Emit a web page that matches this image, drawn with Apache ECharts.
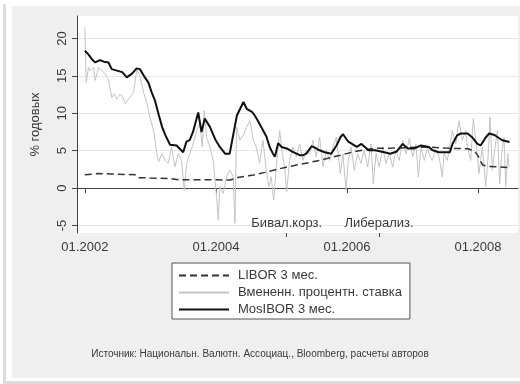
<!DOCTYPE html>
<html><head><meta charset="utf-8">
<script src="https://cdn.jsdelivr.net/npm/echarts@6/dist/echarts.min.js"></script>
<style>
html,body{margin:0;padding:0;background:#fff;width:520px;height:384px;overflow:hidden;}
#shadowL{position:absolute;left:3px;top:4px;width:3px;height:378px;background:#dcdcdc;}
#shadowB{position:absolute;left:3px;top:381px;width:517px;height:3px;background:#dcdcdc;}
#panel{position:absolute;left:12px;top:6px;width:508px;height:372px;background:#efefef;}
#chart{position:absolute;left:0;top:0;width:520px;height:384px;}
</style></head>
<body>
<div id="shadowL"></div><div id="shadowB"></div><div id="panel"></div>
<div id="chart"></div>
<script>
// ---- data (x = decimal year, y = % per annum) ----
const seriesNames = ['LIBOR 3 мес.', 'Вмененн. процентн. ставка', 'MosIBOR 3 мес.'];
const yTicks = [-5, 0, 5, 10, 15, 20];
const xTicks = [2002, 2004, 2006, 2008];
const eventTicks = [2005.08, 2006.49];
const eventLabels = ['Бивал.корз.', 'Либерализ.'];
const sourceText = 'Источник: Национальн. Валютн. Ассоциац., Bloomberg, расчеты авторов';

const libor = [
 [2002.00,1.80],[2002.12,1.85],[2002.20,1.95],[2002.40,1.90],[2002.60,1.82],[2002.78,1.80],
 [2002.83,1.40],[2003.00,1.35],[2003.30,1.28],[2003.45,1.10],[2003.70,1.12],[2004.00,1.10],
 [2004.22,1.08],[2004.35,1.45],[2004.50,1.65],[2004.57,1.75],[2004.75,2.10],[2005.07,2.80],
 [2005.30,3.20],[2005.58,3.70],[2005.90,4.40],[2006.10,4.85],[2006.40,5.30],[2006.70,5.35],
 [2006.90,5.40],[2007.25,5.50],[2007.50,5.35],[2007.65,5.30],[2007.85,5.25],[2007.95,4.90],
 [2008.00,4.30],[2008.07,3.10],[2008.15,2.90],[2008.30,2.85],[2008.48,2.75]
];

const implied = [
 [2002.000,21.5],[2002.020,14.1],[2002.056,16.1],[2002.081,15.7],[2002.133,16.1],[2002.157,14.4],
 [2002.209,16.1],[2002.260,15.7],[2002.310,15.25],[2002.362,14.4],[2002.412,12.1],[2002.450,12.6],
 [2002.489,11.9],[2002.530,12.5],[2002.565,12.4],[2002.615,11.3],[2002.667,11.9],[2002.744,12.8],
 [2002.794,15.9],[2002.844,14.8],[2002.896,12.8],[2002.947,11.3],[2002.997,9.3],[2003.049,7.7],
 [2003.099,4.6],[2003.125,3.5],[2003.176,4.6],[2003.226,3.7],[2003.272,3.3],[2003.324,5.5],
 [2003.374,2.8],[2003.424,4.6],[2003.476,3.7],[2003.516,-0.3],[2003.553,3.3],[2003.603,4.6],
 [2003.653,5.9],[2003.705,7.7],[2003.756,8.6],[2003.791,5.5],[2003.821,10.4],[2003.858,6.8],
 [2003.908,5.5],[2003.959,3.7],[2003.985,1.06],[2004.011,-1.15],[2004.035,-4.25],[2004.061,0.2],
 [2004.111,-0.7],[2004.163,1.5],[2004.214,2.4],[2004.264,1.5],[2004.290,-4.7],[2004.316,8.15],
 [2004.340,7.3],[2004.366,6.4],[2004.417,7.05],[2004.469,8.15],[2004.519,9.0],[2004.569,6.4],
 [2004.615,5.5],[2004.667,3.3],[2004.718,6.4],[2004.768,2.4],[2004.809,0.2],[2004.844,1.5],
 [2004.881,-1.6],[2004.921,2.8],[2004.973,7.7],[2005.012,4.6],[2005.049,2.8],[2005.079,-0.5],
 [2005.125,3.7],[2005.176,5.5],[2005.226,4.2],[2005.278,5.9],[2005.328,3.7],[2005.379,5.05],
 [2005.431,4.6],[2005.481,6.4],[2005.531,4.2],[2005.583,6.8],[2005.634,2.8],[2005.684,5.05],
 [2005.736,3.7],[2005.786,5.5],[2005.837,6.8],[2005.898,1.95],[2005.939,4.6],[2005.985,-0.3],
 [2006.020,3.7],[2006.061,5.5],[2006.111,2.4],[2006.163,4.6],[2006.214,3.3],[2006.264,5.05],
 [2006.316,2.8],[2006.366,5.9],[2006.402,0.6],[2006.443,4.6],[2006.493,2.8],[2006.545,5.5],
 [2006.595,3.3],[2006.646,4.6],[2006.698,2.8],[2006.748,5.05],[2006.798,3.7],[2006.850,6.4],
 [2006.901,4.6],[2006.951,6.6],[2007.003,4.2],[2007.053,5.9],[2007.089,1.5],[2007.130,5.5],
 [2007.180,3.7],[2007.232,5.5],[2007.252,4.6],[2007.302,3.7],[2007.354,5.05],[2007.405,4.2],
 [2007.455,1.5],[2007.481,4.6],[2007.531,3.7],[2007.568,5.5],[2007.608,7.7],[2007.660,5.9],
 [2007.710,9.0],[2007.760,6.4],[2007.812,7.7],[2007.837,5.5],[2007.889,3.7],[2007.928,9.3],
 [2007.965,6.4],[2008.015,1.95],[2008.066,5.5],[2008.118,0.2],[2008.157,4.6],[2008.183,9.5],
 [2008.218,2.4],[2008.260,5.5],[2008.295,7.7],[2008.331,0.6],[2008.362,4.6],[2008.397,6.8],
 [2008.423,0.2],[2008.453,4.6],[2008.473,2.8]
];

const mosibor = [
 [2002.00,18.35],[2002.05,17.9],[2002.11,17.2],[2002.16,16.8],[2002.23,17.1],[2002.29,16.9],
 [2002.36,16.8],[2002.41,15.9],[2002.49,15.7],[2002.57,15.5],[2002.64,14.8],[2002.72,15.3],
 [2002.79,16.0],[2002.84,15.9],[2002.90,15.0],[2002.97,14.1],[2003.02,12.8],[2003.07,11.7],
 [2003.13,9.7],[2003.18,8.15],[2003.23,7.05],[2003.30,5.8],[2003.40,5.7],[2003.50,4.8],
 [2003.55,6.2],[2003.60,6.4],[2003.65,7.5],[2003.73,10.1],[2003.78,7.5],[2003.83,9.3],
 [2003.91,8.15],[2003.99,6.5],[2004.06,5.5],[2004.14,4.6],[2004.21,4.6],[2004.24,4.8],
 [2004.32,9.7],[2004.37,10.6],[2004.42,11.5],[2004.47,10.6],[2004.55,10.2],[2004.60,9.6],
 [2004.64,9.0],[2004.77,6.9],[2004.82,5.5],[2004.87,4.6],[2004.90,4.2],[2004.95,6.0],
 [2005.00,5.5],[2005.08,5.3],[2005.18,4.8],[2005.23,4.6],[2005.28,4.4],[2005.33,4.4],
 [2005.38,4.6],[2005.46,5.6],[2005.53,5.3],[2005.58,5.05],[2005.66,4.8],[2005.76,4.6],
 [2005.84,5.7],[2005.90,6.8],[2005.94,7.2],[2006.02,6.2],[2006.15,5.5],[2006.22,5.9],
 [2006.33,5.05],[2006.43,5.05],[2006.57,4.8],[2006.66,4.6],[2006.76,4.9],[2006.85,5.9],
 [2006.93,5.3],[2007.03,5.3],[2007.13,5.7],[2007.25,5.5],[2007.30,5.1],[2007.40,4.8],
 [2007.50,4.8],[2007.57,4.8],[2007.61,5.9],[2007.68,7.05],[2007.74,7.3],[2007.84,7.3],
 [2007.91,6.8],[2007.99,5.9],[2008.04,5.7],[2008.12,6.8],[2008.17,7.3],[2008.25,7.1],
 [2008.37,6.4],[2008.48,6.15]
];

const FONT = 'Liberation Sans, Arial, sans-serif';
const TXT = '#3a3a3a';
const chart = echarts.init(document.getElementById('chart'), null, {renderer:'canvas'});
chart.setOption({
  animation: false,
  textStyle: {fontFamily: FONT},
  grid: {left: 77, right: 2, top: 16, bottom: 151, show: true, backgroundColor: '#ffffff', borderWidth: 0},
  title: {text: sourceText, left: 'center', top: 344,
          textStyle: {fontSize: 10, fontWeight: 'normal', color: TXT, fontFamily: FONT}},
  legend: {
    orient: 'vertical', left: 172, top: 263,
    padding: [6, 8, 3, 6], itemGap: 4, itemWidth: 50, itemHeight: 15,
    backgroundColor: '#ffffff', borderColor: '#555', borderWidth: 1,
    itemStyle: {opacity: 0},
    textStyle: {fontSize: 13, color: TXT, fontFamily: FONT, padding: [0,0,0,4]},
    data: seriesNames
  },
  xAxis: [{
    type: 'value', min: 2001.88, max: 2008.61, position: 'bottom',
    axisLine: {show: true, lineStyle: {color: '#444', width: 1}},
    axisTick: {show: true, length: 5, lineStyle: {color: '#444'}, customValues: xTicks},
    axisLabel: {customValues: xTicks, fontSize: 13, color: TXT, margin: 8,
                formatter: v => '01.' + Math.round(v)},
    splitLine: {show: false}
  }, {
    type: 'value', min: 2001.88, max: 2008.61, position: 'bottom',
    axisLine: {show: false},
    axisTick: {show: true, length: 4, lineStyle: {color: '#444'}, customValues: eventTicks},
    axisLabel: {customValues: eventTicks, inside: true, margin: 3, fontSize: 13, color: TXT,
                formatter: v => eventLabels[eventTicks.indexOf(v)] || ''},
    splitLine: {show: false}
  }],
  yAxis: {
    type: 'value', min: -6, max: 23,
    name: '% годовых', nameLocation: 'middle', nameGap: 35, nameRotate: 90,
    nameTextStyle: {fontSize: 13, color: TXT, fontFamily: FONT},
    axisLine: {show: true, lineStyle: {color: '#444', width: 1}},
    axisTick: {show: true, length: 5, lineStyle: {color: '#444'}, customValues: yTicks},
    axisLabel: {customValues: yTicks, rotate: 90, fontSize: 13, color: TXT, margin: 8},
    splitLine: {show: true, lineStyle: {color: '#e8e8e8', width: 1}}
  },
  series: [
    {name: seriesNames[0], type: 'line', data: libor, showSymbol: false, symbol: 'none', z: 3,
     lineStyle: {color: '#333', width: 1.5, type: [7, 4]}, itemStyle: {color: '#333'}},
    {name: seriesNames[1], type: 'line', data: implied, showSymbol: false, symbol: 'none', z: 2,
     lineStyle: {color: '#c4c4c4', width: 1}, itemStyle: {color: '#c4c4c4'}},
    {name: seriesNames[2], type: 'line', data: mosibor, showSymbol: false, symbol: 'none', z: 4,
     lineStyle: {color: '#111', width: 2}, itemStyle: {color: '#111'}}
  ]
});
</script>
</body></html>
